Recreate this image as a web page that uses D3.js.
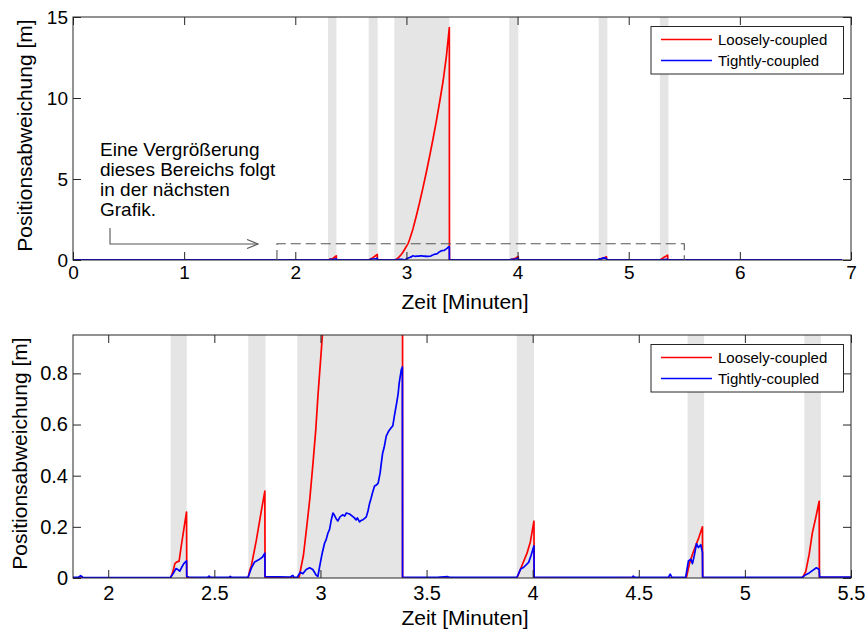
<!DOCTYPE html>
<html><head><meta charset="utf-8">
<script src="https://cdn.jsdelivr.net/npm/d3@7"></script>
<style>
body{margin:0;background:#fff}
text{font-family:"Liberation Sans",Arial,Helvetica,sans-serif;fill:#000}
</style>
</head><body>
<svg id="c" width="868" height="630"></svg>
<script>
// ---------------- data ----------------
const seriesNames = ["Loosely-coupled", "Tightly-coupled"];
const seriesColors = ["#ff0000", "#0000ff"];

// Loosely-coupled position deviation [m] vs time [min]
const loose = [
  [0,0],[2.294,0],[2.305,0.025],[2.314,0.056],[2.322,0.062],[2.334,0.066],[2.345,0.13],[2.358,0.2],[2.369,0.258],[2.370,0.002],
  [2.659,0],[2.667,0.03],[2.675,0.05],[2.698,0.148],[2.722,0.265],[2.738,0.34],[2.739,0.002],
  [2.891,0],[2.90,0.005],[2.92,0.09],[2.934,0.19],[2.95,0.31],[2.965,0.45],[2.978,0.58],[2.988,0.71],[3.004,0.89],[3.016,1.03],
  [3.03,1.3],[3.06,1.95],[3.09,2.75],[3.12,3.6],[3.15,4.5],[3.18,5.45],[3.21,6.45],[3.24,7.5],[3.27,8.6],[3.30,9.8],
  [3.33,11.05],[3.36,12.6],[3.386,14.35],[3.387,0],
  [3.926,0],[3.95,0.05],[3.973,0.096],[3.989,0.141],[4.006,0.222],[4.007,0.002],
  [4.724,0],[4.74,0.06],[4.753,0.093],[4.768,0.126],[4.783,0.158],[4.800,0.2],[4.801,0.002],
  [5.271,0],[5.287,0.026],[5.303,0.093],[5.318,0.177],[5.334,0.236],[5.35,0.30],[5.351,0.002],[6.92,0]
];

// Tightly-coupled position deviation [m] vs time [min]
const tight = [
  [0,0.003],[0.3,0.002],[0.8,0.003],[1.2,0.002],[1.6,0.003],[1.86,0.003],[1.87,0.009],[1.88,0.003],[2.1,0.002],
  [2.294,0.003],[2.308,0.02],[2.319,0.037],[2.328,0.033],[2.337,0.027],[2.347,0.043],[2.356,0.056],[2.369,0.067],[2.370,0.006],[2.38,0.004],
  [2.47,0.003],[2.475,0.007],[2.48,0.003],[2.57,0.003],[2.575,0.006],[2.58,0.003],
  [2.659,0.003],[2.675,0.04],[2.690,0.063],[2.711,0.072],[2.727,0.082],[2.738,0.097],[2.739,0.005],
  [2.86,0.004],[2.865,0.008],[2.87,0.01],[2.875,0.003],[2.891,0.003],
  [2.905,0.023],[2.917,0.017],[2.933,0.033],[2.949,0.04],[2.964,0.033],[2.98,0.011],[2.988,0.006],[2.996,0.044],
  [3.008,0.096],[3.019,0.135],[3.027,0.15],[3.035,0.175],[3.043,0.19],[3.051,0.227],[3.059,0.254],[3.066,0.245],[3.074,0.232],[3.082,0.223],
  [3.093,0.24],[3.106,0.247],[3.114,0.242],[3.122,0.254],[3.137,0.25],[3.153,0.24],[3.16,0.235],[3.168,0.227],[3.174,0.235],
  [3.184,0.219],[3.192,0.225],[3.2,0.228],[3.207,0.232],[3.216,0.239],[3.224,0.262],[3.231,0.29],[3.238,0.31],[3.246,0.335],[3.255,0.36],[3.263,0.363],[3.272,0.371],
  [3.281,0.41],[3.287,0.45],[3.293,0.488],[3.3,0.51],[3.31,0.555],[3.322,0.575],[3.332,0.586],[3.341,0.595],[3.348,0.632],[3.359,0.684],
  [3.366,0.72],[3.371,0.762],[3.381,0.815],[3.386,0.825],[3.387,0.004],
  [3.55,0.003],[3.6,0.005],[3.61,0.003],[3.926,0.003],
  [3.943,0.035],[3.958,0.042],[3.981,0.061],[3.992,0.087],[4.006,0.126],[4.007,0.004],
  [4.3,0.003],[4.47,0.004],[4.474,0.007],[4.48,0.003],[4.64,0.003],[4.648,0.015],[4.655,0.003],[4.721,0.003],
  [4.734,0.067],[4.745,0.073],[4.753,0.056],[4.761,0.086],[4.772,0.134],[4.781,0.119],[4.792,0.13],[4.8,0.1],[4.801,0.004],
  [5.0,0.003],[5.271,0.003],[5.287,0.013],[5.303,0.02],[5.318,0.029],[5.337,0.04],[5.35,0.033],[5.352,0.004],
  [6.0,0.003],[6.92,0.003]
];

// shaded intervals [min]
const bandStart = [2.294, 2.66, 2.891, 3.925, 4.73, 5.28];
const bandEnd   = [2.370, 2.741, 3.386, 4.006, 4.808, 5.358];

// axis ticks
const topXTicks = [0,1,2,3,4,5,6,7];
const topYTicks = [0,5,10,15];
const botXTicks = [2,2.5,3,3.5,4,4.5,5,5.5];
const botYTicks = [0,0.2,0.4,0.6,0.8];

// zoomed region marked in the top chart: [tStart, tEnd], [vMin, vMax]
const zoomT = [1.835, 5.5];
const zoomV = [0, 1];

// annotation
const noteLines = ["Eine Vergrößerung", "dieses Bereichs folgt", "in der nächsten", "Grafik."];
const noteAnchor = [0.243, 6.42];            // t, v of first text line
const arrowPath = [[0.333, 1.98], [0.333, 0.99], [1.665, 0.99]];

const xLabel = "Zeit [Minuten]";
const yLabel = "Positionsabweichung [m]";

// ---------------- drawing ----------------
const svg = d3.select("#c");
const axisColor = "#262626";
const TICK = 8;

function drawPanel(cfg, id) {
  const x = d3.scaleLinear().domain(cfg.xDomain).range([cfg.x0, cfg.x1]);
  const y = d3.scaleLinear().domain(cfg.yDomain).range([cfg.y1, cfg.y0]);
  const g = svg.append("g");

  g.append("clipPath").attr("id", "clip" + id)
    .append("rect").attr("x", cfg.x0).attr("y", cfg.y0)
    .attr("width", cfg.x1 - cfg.x0).attr("height", cfg.y1 - cfg.y0);

  const plot = g.append("g").attr("clip-path", `url(#clip${id})`);

  plot.selectAll("rect.band").data(d3.range(bandStart.length)).join("rect")
    .attr("class", "band")
    .attr("x", i => x(bandStart[i]))
    .attr("width", i => x(bandEnd[i]) - x(bandStart[i]))
    .attr("y", cfg.y0).attr("height", cfg.y1 - cfg.y0)
    .attr("fill", "#e5e5e5");

  const line = d3.line().x(d => x(d[0])).y(d => y(d[1]));
  [loose, tight].forEach((s, i) => {
    plot.append("path").datum(s).attr("d", line)
      .attr("fill", "none").attr("stroke", seriesColors[i])
      .attr("stroke-width", 1.7).attr("stroke-linejoin", "round");
  });

  const fmt = d => String(d);
  const xb = g.append("g").attr("transform", `translate(0,${cfg.y1})`)
    .call(d3.axisBottom(x).tickValues(cfg.xTicks).tickFormat(fmt)
      .tickSizeInner(-TICK).tickSizeOuter(0).tickPadding(cfg.xPad));
  const xt = g.append("g").attr("transform", `translate(0,${cfg.y0})`)
    .call(d3.axisTop(x).tickValues(cfg.xTicks).tickFormat("")
      .tickSizeInner(-TICK).tickSizeOuter(0));
  const yl = g.append("g").attr("transform", `translate(${cfg.x0},0)`)
    .call(d3.axisLeft(y).tickValues(cfg.yTicks).tickFormat(fmt)
      .tickSizeInner(-TICK).tickSizeOuter(0).tickPadding(5));
  const yr = g.append("g").attr("transform", `translate(${cfg.x1},0)`)
    .call(d3.axisRight(y).tickValues(cfg.yTicks).tickFormat("")
      .tickSizeInner(-TICK).tickSizeOuter(0));
  [xb, xt, yl, yr].forEach(a => {
    a.select(".domain").remove();
    a.selectAll("line").attr("stroke", axisColor);
    a.selectAll("text").attr("font-size", cfg.tickFont).attr("fill", "#000")
      .style("font-family", '"Liberation Sans",Arial,sans-serif');
  });
  g.append("rect").attr("x", cfg.x0).attr("y", cfg.y0)
    .attr("width", cfg.x1 - cfg.x0).attr("height", cfg.y1 - cfg.y0)
    .attr("fill", "none").attr("stroke", axisColor).attr("stroke-width", 1);

  g.append("text").attr("x", (cfg.x0 + cfg.x1) / 2 + 3).attr("y", cfg.xLabelY)
    .attr("text-anchor", "middle").attr("font-size", cfg.labelFont).text(xLabel);
  g.append("text")
    .attr("transform", `translate(${cfg.yLabelX},${(cfg.y0 + cfg.y1) / 2 - 3}) rotate(-90)`)
    .attr("text-anchor", "middle").attr("font-size", cfg.labelFont).text(yLabel);

  const lx = cfg.x1 - 200, ly = cfg.y0 + 9.5;
  const lg = g.append("g");
  lg.append("rect").attr("x", lx).attr("y", ly).attr("width", 192.5).attr("height", 47.5)
    .attr("fill", "#fff").attr("stroke", axisColor).attr("stroke-width", 1);
  seriesNames.forEach((n, i) => {
    const ry = ly + 13 + i * 21;
    lg.append("line").attr("x1", lx + 10).attr("x2", lx + 61).attr("y1", ry).attr("y2", ry)
      .attr("stroke", seriesColors[i]).attr("stroke-width", 1.7);
    lg.append("text").attr("x", lx + 67).attr("y", ry + 5.3).attr("font-size", 15).text(n);
  });
  return {g, x, y};
}

const topPanel = drawPanel({
  x0: 73, x1: 851, y0: 17, y1: 260,
  xDomain: [0, 7], yDomain: [0, 15],
  xTicks: topXTicks, yTicks: topYTicks,
  xPad: 6, tickFont: 19, labelFont: 21,
  xLabelY: 309, yLabelX: 32
}, "a");

const botPanel = drawPanel({
  x0: 73, x1: 851, y0: 335, y1: 578,
  xDomain: [1.834, 5.5], yDomain: [0, 0.95],
  xTicks: botXTicks, yTicks: botYTicks,
  xPad: 8, tickFont: 20, labelFont: 21,
  xLabelY: 625, yLabelX: 27
}, "b");

const X = topPanel.x, Y = topPanel.y;
topPanel.g.append("path")
  .attr("d", d3.line()([[X(zoomT[0]), Y(zoomV[0])], [X(zoomT[0]), Y(zoomV[1])],
                        [X(zoomT[1]), Y(zoomV[1])], [X(zoomT[1]), Y(zoomV[0])]]))
  .attr("fill", "none").attr("stroke", "#555").attr("stroke-width", 1.1)
  .attr("stroke-dasharray", "10,5");

noteLines.forEach((t, i) => {
  topPanel.g.append("text").attr("x", X(noteAnchor[0])).attr("y", Y(noteAnchor[1]) + i * 20)
    .attr("font-size", 19).text(t);
});
const ap = arrowPath.map(p => [X(p[0]), Y(p[1])]);
topPanel.g.append("path").attr("d", d3.line()(ap))
  .attr("fill", "none").attr("stroke", "#555").attr("stroke-width", 1.1);
const tip = ap[ap.length - 1];
topPanel.g.append("path")
  .attr("d", d3.line()([[tip[0] - 11, tip[1] - 4.5], tip, [tip[0] - 11, tip[1] + 4.5]]))
  .attr("fill", "none").attr("stroke", "#555").attr("stroke-width", 1.1);
</script>
</body></html>
